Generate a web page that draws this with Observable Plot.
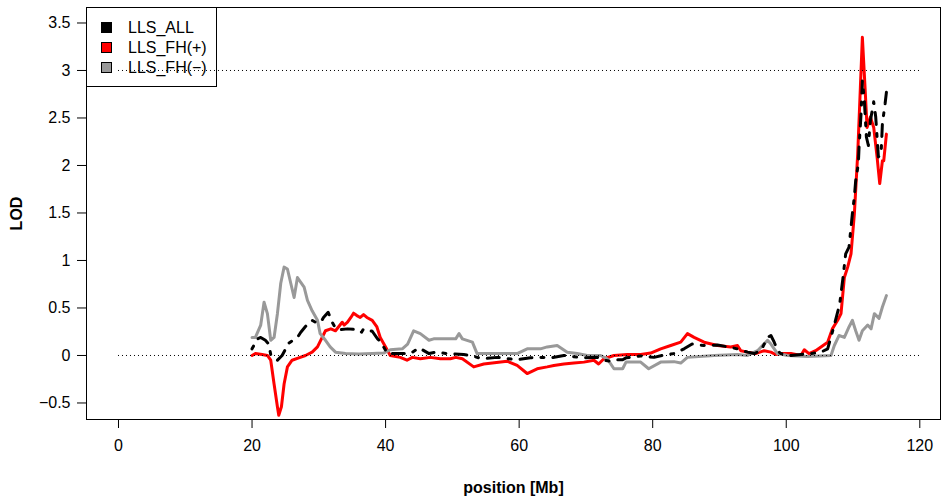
<!DOCTYPE html>
<html>
<head>
<meta charset="utf-8">
<script src="https://cdn.jsdelivr.net/npm/d3@7"></script>
<script src="https://cdn.jsdelivr.net/npm/@observablehq/plot@0.6"></script>
<style>
  html, body { margin: 0; padding: 0; background: #fff; }
  #wrap { position: relative; width: 944px; height: 499px; font-family: "Liberation Sans", Arial, sans-serif; }
  #legend { position: absolute; left: 86px; top: 7px; width: 131px; height: 80px; border: 1px solid #000; box-sizing: border-box; font-size: 16px; }
  .row { position: absolute; left: 0; height: 20px; line-height: 20px; white-space: nowrap; }
  .sw { position: absolute; left: 14px; top: 4px; width: 11px; height: 11px; border: 1px solid #000; box-sizing: border-box; }
  .lab { position: absolute; left: 41px; top: 0; }
</style>
</head>
<body>
<div id="wrap">
  <div id="chart"></div>
  <div id="legend"></div>
</div>
<script>
// ---- axis ticks ----
const xTicks = [0, 20, 40, 60, 80, 100, 120];
const xTickLabels = ["0", "20", "40", "60", "80", "100", "120"];
const yTicks = [-0.5, 0, 0.5, 1, 1.5, 2, 2.5, 3, 3.5];
const yTickLabels = ["\u22120.5", "0", "0.5", "1", "1.5", "2", "2.5", "3", "3.5"];
const refLevels = [0, 3];

// ---- series names ----
const seriesNames = ["LLS_ALL", "LLS_FH(+)", "LLS_FH(\u2212)"];
const seriesColors = ["#000000", "#FF0000", "#999999"];

// ---- LLS_ALL ----
const allPos = [
  20.0, 20.8, 21.3, 22.0, 22.5, 22.8, 23.8, 24.5, 25.5, 26.8,
  27.3, 28.0, 29.0, 29.5, 30.3, 30.7, 31.4, 32.0, 32.5, 33.0,
  34.3, 36.0, 36.4, 36.7, 38.0, 38.8, 39.3, 39.7, 40.3, 42.7,
  43.7, 45.0, 46.5, 47.5, 49.2, 51.7, 52.7, 54.5, 56.7, 57.5,
  59.5, 61.7, 63.2, 64.7, 66.7, 67.7, 69.7, 71.7, 72.7, 73.7,
  74.7, 75.5, 76.0, 78.2, 80.2, 81.4, 83.2, 84.7, 85.9, 87.7,
  89.7, 90.9, 92.7, 94.2, 95.2, 96.2, 97.2, 97.7, 98.2, 98.7,
  99.2, 100.7, 102.2, 103.7, 105.2, 106.2, 107.2, 108.0, 108.5, 108.9,
  109.4, 109.9, 110.2, 110.4, 110.8, 110.9, 111.2, 111.4, 111.7, 112.0,
  112.3, 112.6, 113.1, 113.4, 113.8, 114.2, 114.4, 114.8, 115.0
];
const allLod = [
  0.07, 0.175, 0.19, 0.16, 0.12, 0.01, -0.05, 0.0, 0.13, 0.19,
  0.245, 0.305, 0.37, 0.35, 0.35, 0.40, 0.455, 0.35, 0.29, 0.27,
  0.28, 0.27, 0.245, 0.28, 0.255, 0.175, 0.14, 0.09, 0.02, 0.02,
  0.02, 0.08, 0.02, 0.035, 0.02, 0.01, 0.0, -0.035, -0.02, -0.025,
  -0.045, -0.025, -0.02, -0.025, 0.0, -0.01, -0.025, -0.02, -0.05, -0.06,
  -0.045, -0.045, -0.025, -0.005, -0.02, 0.0, 0.02, 0.07, 0.12, 0.105,
  0.11, 0.095, 0.07, 0.035, 0.02, 0.05, 0.19, 0.21, 0.14, 0.05,
  0.02, 0.0, 0.01, 0.02, 0.035, 0.07, 0.32, 0.54, 0.82, 1.07,
  1.14, 1.49, 1.67, 1.84, 2.02, 2.19, 2.54, 2.89, 2.68, 2.30,
  2.21, 2.47, 2.67, 2.51, 2.09, 2.12, 2.44, 2.65, 2.77
];

// ---- LLS_FH(+) ----
const plusPos = [
  20.0, 20.5, 21.5, 22.3, 22.8, 23.3, 23.8, 24.0, 24.4, 24.8,
  25.3, 26.0, 27.0, 28.0, 29.0, 29.8, 30.5, 31.0, 31.8, 32.5,
  33.5, 33.8, 34.3, 34.8, 35.2, 35.7, 36.2, 36.7, 37.2, 38.0,
  38.7, 39.2, 40.0, 40.7, 42.2, 43.2, 44.0, 45.2, 46.7, 48.2,
  49.7, 50.5, 51.5, 53.2, 54.7, 58.2, 59.7, 61.2, 62.7, 64.2,
  65.2, 66.7, 68.2, 69.7, 71.2, 71.9, 72.7, 74.2, 76.2, 78.2,
  79.7, 81.2, 82.7, 84.2, 85.2, 86.2, 87.7, 89.7, 91.7, 92.7,
  93.2, 94.2, 95.4, 96.7, 97.7, 98.4, 99.2, 100.7, 102.2, 102.7,
  103.4, 104.4, 105.2, 106.2, 106.9, 107.7, 108.2, 108.7, 109.2, 109.7,
  110.2, 110.7, 111.1, 111.4, 111.8, 112.1, 112.6, 113.1, 113.6, 114.0,
  114.4, 114.6, 115.0
];
const plusLod = [
  0.0, 0.02, 0.01, 0.0, -0.05, -0.3, -0.54, -0.63, -0.54, -0.3,
  -0.12, -0.05, -0.025, 0.0, 0.035, 0.09, 0.19, 0.26, 0.28, 0.26,
  0.35, 0.32, 0.35, 0.40, 0.445, 0.42, 0.40, 0.43, 0.40, 0.37,
  0.30, 0.19, 0.09, 0.0, -0.02, -0.05, -0.02, -0.035, -0.02, -0.035,
  -0.035, -0.02, -0.035, -0.12, -0.09, -0.06, -0.105, -0.19, -0.14, -0.12,
  -0.105, -0.09, -0.08, -0.07, -0.05, -0.09, -0.035, 0.0, 0.01, 0.01,
  0.025, 0.07, 0.105, 0.14, 0.23, 0.19, 0.14, 0.105, 0.09, 0.105,
  0.05, 0.035, 0.02, 0.05, 0.035, 0.01, 0.02, 0.02, 0.0, 0.06,
  0.02, 0.05, 0.09, 0.14, 0.28, 0.37, 0.44, 0.82, 0.93, 1.07,
  1.49, 2.12, 2.82, 3.35, 2.82, 2.40, 2.51, 2.40, 2.09, 1.81,
  2.05, 2.05, 2.33
];

// ---- LLS_FH(-) ----
const minusPos = [
  20.0, 20.5, 21.3, 21.8, 22.3, 22.8, 23.3, 23.8, 24.3, 24.8,
  25.3, 25.8, 26.3, 26.8, 27.3, 27.8, 28.3, 29.0, 29.8, 30.2,
  31.0, 31.7, 32.5, 34.0, 36.0, 38.0, 39.7, 40.7, 42.5, 43.3,
  44.2, 45.2, 46.5, 47.2, 49.7, 50.5, 51.0, 51.5, 53.0, 53.7,
  58.2, 59.7, 61.2, 63.2, 64.2, 65.7, 67.2, 68.7, 70.2, 72.2,
  73.2, 74.2, 75.5, 76.0, 76.7, 78.2, 79.4, 81.2, 83.2, 84.2,
  85.2, 89.2, 92.7, 94.2, 95.7, 97.2, 97.7, 98.7, 100.2, 103.2,
  106.7, 107.2, 107.9, 108.7, 109.4, 109.9, 110.4, 110.9, 111.4, 112.2,
  112.7, 113.2, 113.9, 114.4, 115.0
];
const minusLod = [
  0.19, 0.19, 0.32, 0.56, 0.44, 0.16, 0.19, 0.44, 0.76, 0.93,
  0.91, 0.76, 0.61, 0.82, 0.77, 0.72, 0.58, 0.47, 0.37, 0.23,
  0.16, 0.09, 0.035, 0.02, 0.015, 0.02, 0.025, 0.06, 0.07, 0.12,
  0.26, 0.23, 0.16, 0.175, 0.175, 0.175, 0.23, 0.175, 0.14, 0.02,
  0.02, 0.02, 0.07, 0.07, 0.09, 0.105, 0.035, 0.02, 0.0, 0.0,
  -0.035, -0.14, -0.14, -0.07, -0.07, -0.07, -0.14, -0.07, -0.065, -0.08,
  -0.02, 0.0, 0.01, 0.0, 0.05, 0.16, 0.12, 0.02, 0.0, -0.01,
  0.0, 0.105, 0.21, 0.19, 0.30, 0.37, 0.26, 0.16, 0.26, 0.32,
  0.28, 0.44, 0.39, 0.51, 0.63
];

const toRows = (ps, vs) => ps.map((p, i) => ({pos: p, lod: vs[i]}));
const allRows = toRows(allPos, allLod);
const plusRows = toRows(plusPos, plusLod);
const minusRows = toRows(minusPos, minusLod);

const fmt = (ticks, labels) => d => labels[ticks.indexOf(d)];

const chart = Plot.plot({
  width: 944,
  height: 499,
  marginLeft: 86,
  marginRight: 4,
  marginTop: 7,
  marginBottom: 80,
  x: {domain: [-4.79, 123.1]},
  y: {domain: [-0.674, 3.663]},
  style: {fontFamily: "Liberation Sans, Arial, sans-serif", fontSize: "16px", color: "#000", background: "#fff"},
  marks: [
    Plot.frame({stroke: "#000", strokeWidth: 1}),
    Plot.line(plusRows, {x: "pos", y: "lod", stroke: seriesColors[1], strokeWidth: 3}),
    Plot.line(minusRows, {x: "pos", y: "lod", stroke: seriesColors[2], strokeWidth: 3}),
    Plot.line(allRows, {x: "pos", y: "lod", stroke: seriesColors[0], strokeWidth: 3, strokeDasharray: "3,9,12,9", strokeLinecap: "round"}),
    Plot.ruleY(refLevels, {x1: xTicks[0], x2: xTicks[xTicks.length - 1], stroke: "#000", strokeWidth: 1, strokeDasharray: "1,3"}),
    Plot.axisX({ticks: xTicks, tickFormat: fmt(xTicks, xTickLabels), tickSize: 9, tickPadding: 11, label: null, fontSize: 16}),
    Plot.axisX({ticks: [], label: "position [Mb]", labelAnchor: "center", labelOffset: 73, labelArrow: "none", fontWeight: "bold", fontSize: 16}),
    Plot.axisY({ticks: yTicks, tickFormat: fmt(yTicks, yTickLabels), tickSize: 9, tickPadding: 7, label: null, fontSize: 16}),
    Plot.axisY({ticks: [], label: "LOD", labelAnchor: "center", labelOffset: 76, labelArrow: "none", fontWeight: "bold", fontSize: 16})
  ]
});
document.getElementById("chart").appendChild(chart);

// ---- legend ----
const legend = document.getElementById("legend");
const rowTops = [10, 30, 50];
seriesNames.forEach((name, i) => {
  const row = document.createElement("div");
  row.className = "row";
  row.style.top = rowTops[i] + "px";
  const sw = document.createElement("span");
  sw.className = "sw";
  sw.style.background = seriesColors[i];
  const lab = document.createElement("span");
  lab.className = "lab";
  lab.textContent = name;
  row.appendChild(sw);
  row.appendChild(lab);
  legend.appendChild(row);
});
</script>
</body>
</html>
